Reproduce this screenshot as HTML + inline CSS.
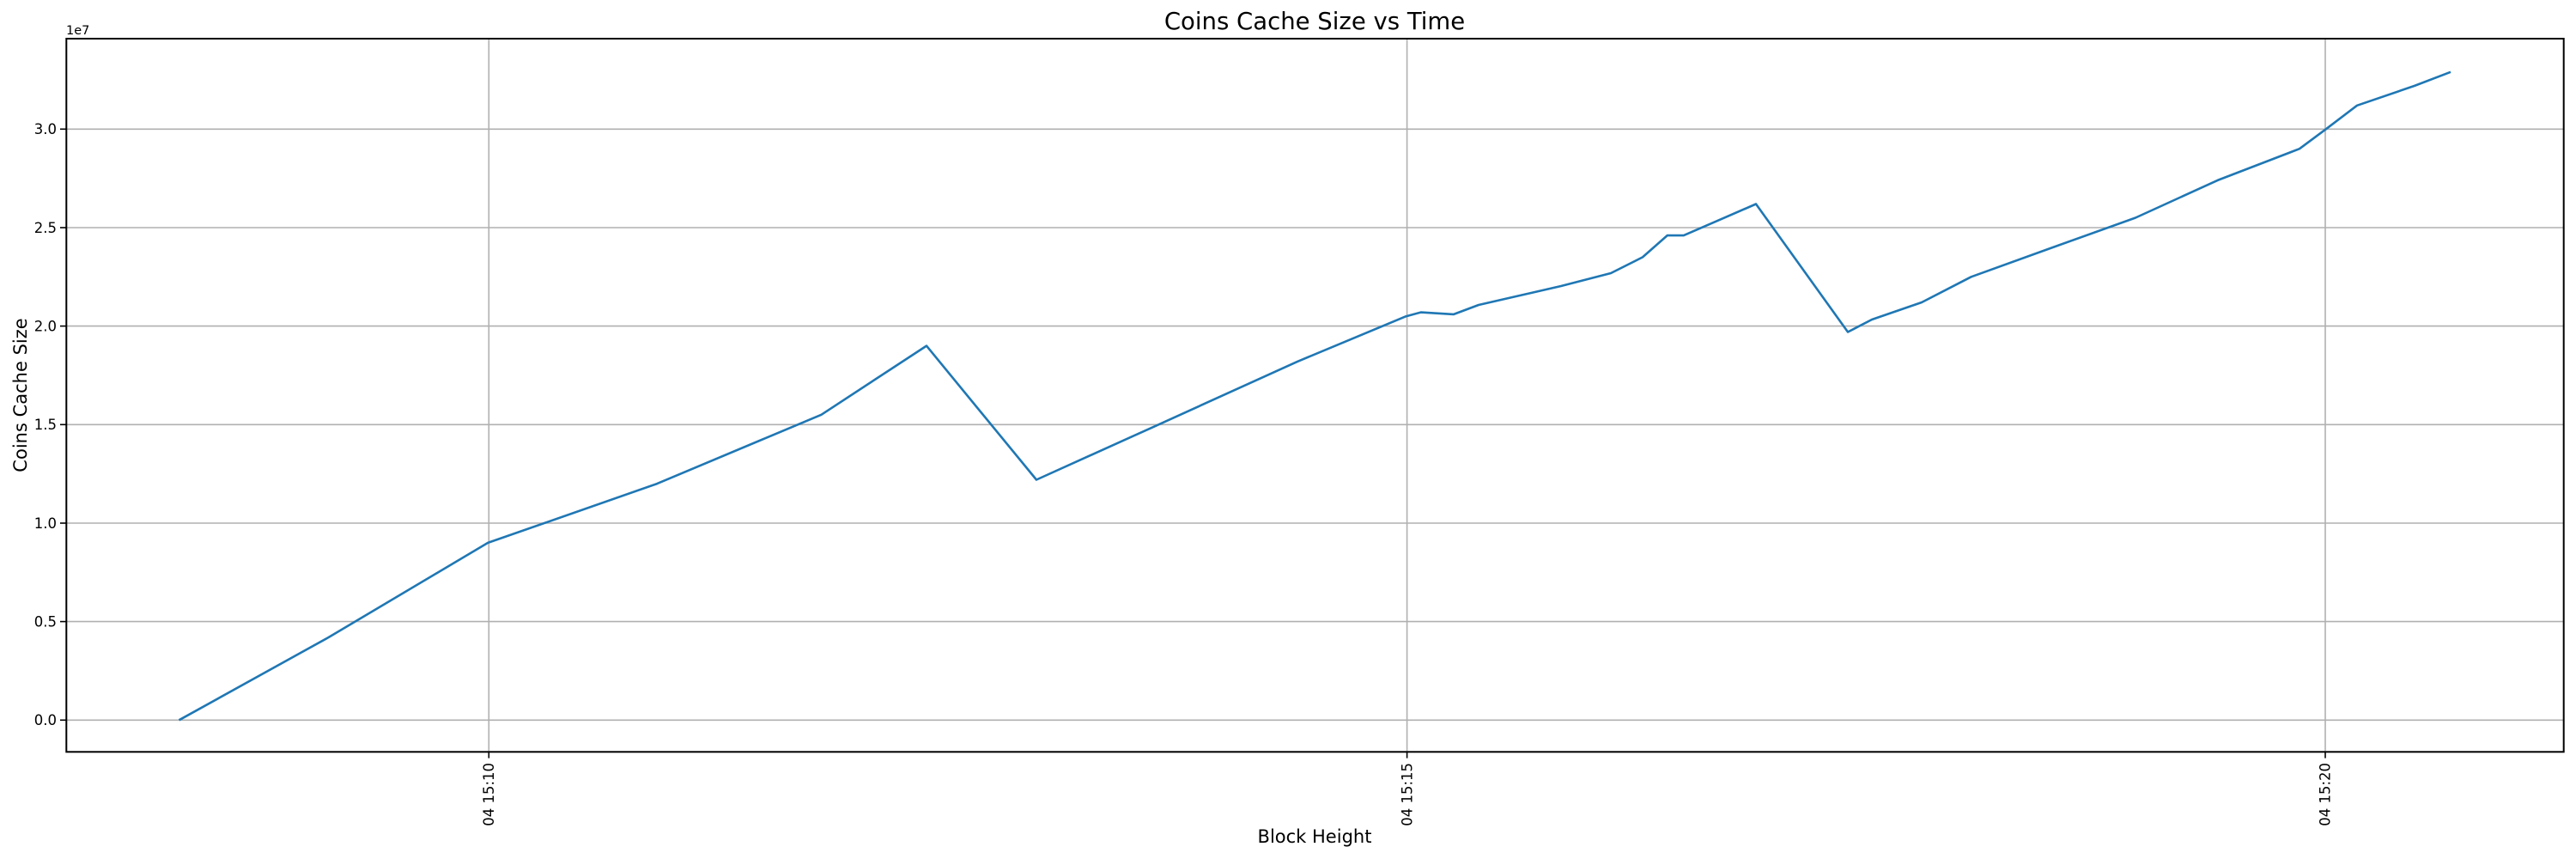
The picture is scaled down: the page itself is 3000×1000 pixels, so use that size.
<!DOCTYPE html>
<html><head><meta charset="utf-8"><style>body{margin:0;background:#fff}svg{display:block}</style></head>
<body>
<svg width="3000" height="1000" viewBox="0 0 3000 1000" xmlns="http://www.w3.org/2000/svg" font-family="DejaVu Sans, Liberation Sans, sans-serif">
<g stroke="#b0b0b0" stroke-width="1.6">
<line x1="77.3" x2="2985.7" y1="838.3" y2="838.3"/>
<line x1="77.3" x2="2985.7" y1="723.6" y2="723.6"/>
<line x1="77.3" x2="2985.7" y1="609.0" y2="609.0"/>
<line x1="77.3" x2="2985.7" y1="494.3" y2="494.3"/>
<line x1="77.3" x2="2985.7" y1="379.6" y2="379.6"/>
<line x1="77.3" x2="2985.7" y1="265.0" y2="265.0"/>
<line x1="77.3" x2="2985.7" y1="150.3" y2="150.3"/>
<line x1="569.3" x2="569.3" y1="45" y2="875.3"/>
<line x1="1638.6" x2="1638.6" y1="45" y2="875.3"/>
<line x1="2708" x2="2708" y1="45" y2="875.3"/>
</g>
<polyline fill="none" stroke="#1f77b4" stroke-width="2.6" stroke-linejoin="round" points="208.5,838.3 382.6,742.0 568.2,631.9 765.2,563.1 956.5,482.8 1079,402.6 1207,558.5 1339,498.9 1511,420.9 1637.5,368.2 1654.7,363.6 1693,365.9 1722,355 1818,333 1876,318 1913,299.4 1941.7,274.1 1960.8,274.1 2045,237.5 2152,386.5 2180,372 2238,352 2295.6,322.3 2391,287.9 2487,253.5 2582.6,209.9 2678,173.2 2708.8,150.3 2745,122.8 2812,99.9 2854,83.8"/>
<rect x="77.3" y="45" width="2908.4" height="830.3" fill="none" stroke="#000" stroke-width="2"/>
<g stroke="#000" stroke-width="1.6">
<line x1="70" x2="77.3" y1="838.3" y2="838.3"/><line x1="70" x2="77.3" y1="723.6" y2="723.6"/>
<line x1="70" x2="77.3" y1="609.0" y2="609.0"/><line x1="70" x2="77.3" y1="494.3" y2="494.3"/>
<line x1="70" x2="77.3" y1="379.6" y2="379.6"/><line x1="70" x2="77.3" y1="265.0" y2="265.0"/>
<line x1="70" x2="77.3" y1="150.3" y2="150.3"/>
<line x1="569.3" x2="569.3" y1="875.3" y2="882.6"/><line x1="1638.6" x2="1638.6" y1="875.3" y2="882.6"/><line x1="2708" x2="2708" y1="875.3" y2="882.6"/>
</g>
<g font-size="16.5" text-anchor="end" fill="#000">
<text x="66" y="844">0.0</text><text x="66" y="729.5">0.5</text><text x="66" y="615">1.0</text>
<text x="66" y="500">1.5</text><text x="66" y="385.5">2.0</text><text x="66" y="271">2.5</text><text x="66" y="156">3.0</text>
</g>
<text x="77" y="40" font-size="14.5">1e7</text>
<g font-size="16.5" text-anchor="end">
<text transform="translate(575,888) rotate(-90)">04 15:10</text>
<text transform="translate(1644.3,888) rotate(-90)">04 15:15</text>
<text transform="translate(2713.7,888) rotate(-90)">04 15:20</text>
</g>
<text x="1531" y="34" font-size="27.5" text-anchor="middle">Coins Cache Size vs Time</text>
<text x="1531" y="981" font-size="21" text-anchor="middle">Block Height</text>
<text transform="translate(31,460) rotate(-90)" font-size="21" text-anchor="middle">Coins Cache Size</text>
</svg>
</body></html>
